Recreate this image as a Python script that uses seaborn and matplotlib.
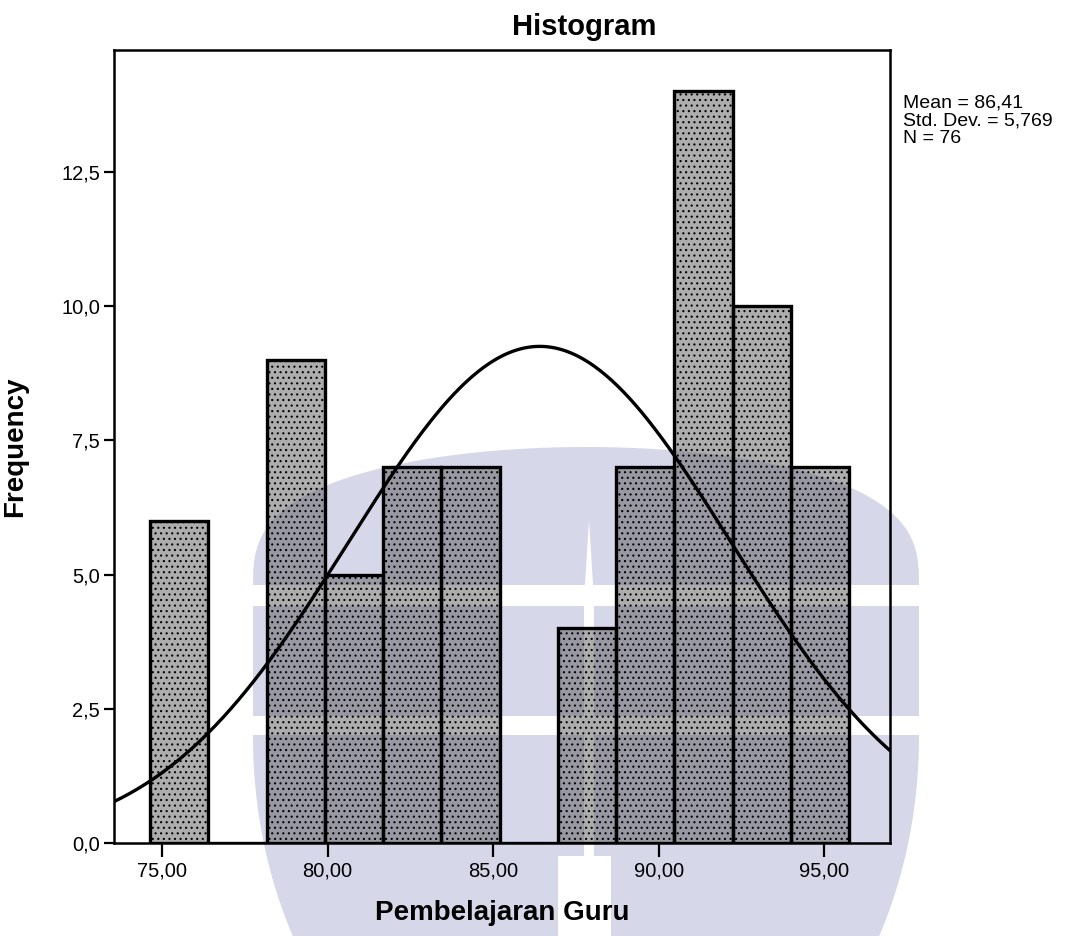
import numpy as np
import pandas as pd
import matplotlib
matplotlib.use("Agg")
import matplotlib.pyplot as plt
from matplotlib.patches import Polygon
import seaborn as sns

# Frequency table of "Pembelajaran Guru" (12 equal-width classes)
bin_start = 74.64
bin_width = 1.76
counts = [6, 0, 9, 5, 7, 7, 0, 4, 7, 14, 10, 7]

# Summary statistics shown beside the chart
mean_val = 86.41
std_val = 5.769
n_obs = 76

x_ticks = [75, 80, 85, 90, 95]
x_tick_labels = ["75,00", "80,00", "85,00", "90,00", "95,00"]
y_ticks = [0.0, 2.5, 5.0, 7.5, 10.0, 12.5]
y_tick_labels = ["0,0", "2,5", "5,0", "7,5", "10,0", "12,5"]

edges = [bin_start + bin_width * i for i in range(len(counts) + 1)]
centers = [(a + b) / 2 for a, b in zip(edges[:-1], edges[1:])]
df = pd.DataFrame({"score": centers, "freq": counts})

sns.set_style("ticks")
plt.rcParams["font.family"] = ["Liberation Sans", "DejaVu Sans"]
plt.rcParams["hatch.linewidth"] = 0.8
for key in ["text.color", "axes.labelcolor", "xtick.color", "ytick.color",
            "axes.edgecolor"]:
    plt.rcParams[key] = "black"

W, H = 1067, 936
fig = plt.figure(figsize=(W / 100, H / 100), dpi=100)


def fxy(x, y):
    return (x / W, 1 - y / H)


# Pale lavender emblem printed behind the chart
lav = "#d7d7ea"
cx = 586
pts = []
for t in np.linspace(np.pi, 0, 80):
    pts.append((cx + 333 * np.cos(t), 585 - 138 * np.sin(t) ** 0.7))
for yy in np.linspace(585, 936, 50):
    hw = 333 * np.sqrt(max(1 - (max(yy - 737, 0) / 420) ** 2, 0))
    pts.append((cx + hw, yy))
for yy in np.linspace(936, 585, 50):
    hw = 333 * np.sqrt(max(1 - (max(yy - 737, 0) / 420) ** 2, 0))
    pts.append((cx - hw, yy))
fig.patches.append(Polygon([fxy(*p) for p in pts], closed=True,
                           transform=fig.transFigure, facecolor=lav,
                           edgecolor="none", zorder=-3))
for y0, y1 in [(585, 606), (716, 735)]:
    fig.patches.append(Polygon([fxy(200, y0), fxy(980, y0), fxy(980, y1), fxy(200, y1)],
                               closed=True, transform=fig.transFigure,
                               facecolor="white", edgecolor="none", zorder=-2))
gap = [(589, 520), (594, 600), (594, 856), (611, 856), (611, 936),
       (558, 936), (558, 856), (584, 856), (584, 600)]
fig.patches.append(Polygon([fxy(*p) for p in gap], closed=True,
                           transform=fig.transFigure, facecolor="white",
                           edgecolor="none", zorder=-2))

ax = fig.add_axes([114 / W, 1 - 843 / H, (890 - 114) / W, (843 - 50) / H])
ax.patch.set_alpha(0)

sns.histplot(data=df, x="score", weights="freq", bins=edges, ax=ax,
             color="#555555", alpha=0.5, edgecolor="black", linewidth=2.4)
for p in ax.patches:
    p.set_facecolor((0.33, 0.33, 0.33, 0.48))
    p.set_edgecolor("black")
    p.set_hatch("...")

# Normal curve scaled to counts
xs = np.linspace(73.55, 96.99, 400)
ys = n_obs * bin_width * np.exp(-0.5 * ((xs - mean_val) / std_val) ** 2) / (std_val * np.sqrt(2 * np.pi))
sns.lineplot(x=xs, y=ys, ax=ax, color="black", linewidth=2.4, sort=False)

ax.set_xlim(73.55, 96.99)
ax.set_ylim(0, 14.77)
ax.set_xticks(x_ticks)
ax.set_xticklabels(x_tick_labels)
ax.set_yticks(y_ticks)
ax.set_yticklabels(y_tick_labels)
ax.tick_params(axis="x", direction="out", length=10, width=1.6, pad=3, labelsize=14.5)
ax.tick_params(axis="y", direction="out", length=7, width=1.6, pad=3, labelsize=14.5)
for s in ax.spines.values():
    s.set_visible(True)
    s.set_linewidth(1.8)
    s.set_color("black")

ax.set_xlabel("Pembelajaran Guru", fontsize=20, fontweight="bold", labelpad=14)
ax.set_ylabel("Frequency", fontsize=20, fontweight="bold", labelpad=24)

fig.text(584 / W, 1 - 27 / H, "Histogram", fontsize=21, fontweight="bold",
         ha="center", va="center")
stats_text = "\n".join([
    f"Mean = {mean_val:.2f}".replace(".", ","),
    f"Std. Dev. = {std_val:.3f}".replace(".", ",").replace("Std, Dev,", "Std. Dev."),
    f"N = {n_obs}",
])
fig.text(903 / W, 1 - 95 / H, stats_text, fontsize=14, ha="left", va="top",
         linespacing=1.05)

fig.savefig("out.png", dpi=100)
